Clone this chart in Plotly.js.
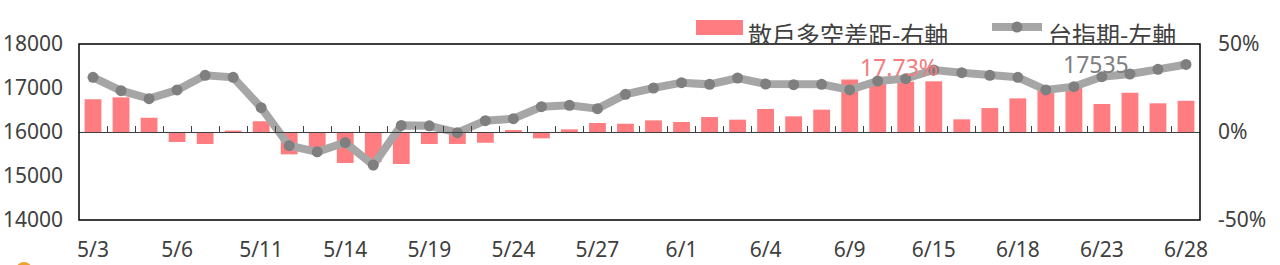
<!DOCTYPE html>
<html>
<head>
<meta charset="utf-8">
<script src="https://cdn.plot.ly/plotly-3.0.1.min.js"></script>
<style>
html,body{margin:0;padding:0;background:#fff;}
#chart{width:1280px;height:265px;}
</style>
</head>
<body>
<div id="chart"></div>
<script>
// ---- data ----
const dates = ['5/3','5/4','5/5','5/6','5/7','5/10','5/11','5/12','5/13','5/14',
  '5/17','5/18','5/19','5/20','5/21','5/24','5/25','5/26','5/27','5/28',
  '5/31','6/1','6/2','6/3','6/4','6/7','6/8','6/9','6/10','6/11',
  '6/15','6/16','6/17','6/18','6/21','6/22','6/23','6/24','6/25','6/28'];
const retailGap = [18.6,19.7,8.1,-5.7,-6.8,0.8,6.1,-12.7,-10.5,-17.6,
  -17.0,-18.2,-6.8,-6.8,-6.1,1.1,-3.6,1.5,5.1,4.7,
  6.6,5.7,8.5,7.0,13.1,8.9,12.7,29.9,27.8,28.6,
  28.8,7.2,13.6,19.1,24.0,25.5,15.9,22.3,16.3,17.73];
const taiex = [17243,16939,16757,16955,17288,17243,16553,15690,15550,15760,
  15250,16150,16140,15985,16257,16303,16575,16606,16530,16856,
  17000,17121,17083,17227,17091,17076,17083,16955,17159,17212,
  17409,17348,17288,17242,16955,17030,17258,17318,17424,17535];
const tickDates = ['5/3','5/6','5/11','5/14','5/19','5/24','5/27','6/1','6/4','6/9','6/15','6/18','6/23','6/28'];
const leftTicks = [14000,15000,16000,17000,18000];
const rightTicks = [-50,0,50];
const barName = '散戶多空差距-右軸';
const lineName = '台指期-左軸';

// ---- layout helpers (pixel -> paper) ----
const W = 1280, H = 265, M = {l:79, r:80, t:44, b:45};
const pw = W - M.l - M.r, ph = H - M.t - M.b;
const px = x => (x - M.l) / pw;
const py = y => (H - M.b - y) / ph;

const FONT = 'Noto Sans, Noto Sans CJK TC, sans-serif';
const TXT = '#404040';
const BAR = '#FF7C80';
const LINEC = '#A6A6A6';
const MARK = '#7F7F7F';

const n = dates.length;
const boundaries = [];
for (let i = 0; i < n - 1; i++) boundaries.push(i + 0.5);

const traces = [
  {type:'bar', x:dates, y:retailGap, yaxis:'y', xaxis:'x', name:barName,
   marker:{color:BAR}, hoverinfo:'skip', showlegend:false},
  {type:'scatter', mode:'lines+markers', x:dates, y:taiex, yaxis:'y2', xaxis:'x', name:lineName,
   line:{color:LINEC, width:8}, marker:{color:MARK, size:11}, hoverinfo:'skip', showlegend:false},
  // empty helper trace so the zero-line axis (x2) is drawn
  {type:'scatter', mode:'markers', x:[], y:[], xaxis:'x2', yaxis:'y', hoverinfo:'skip', showlegend:false}
];

const lastGap = retailGap[n-1];
const lastIdx = taiex[n-1];

const layout = {
  width:W, height:H, margin:M,
  paper_bgcolor:'#fff', plot_bgcolor:'rgba(0,0,0,0)',
  font:{family:FONT, size:21, color:TXT},
  bargap:0.4, showlegend:false,
  xaxis:{type:'category', categoryorder:'array', categoryarray:dates,
    range:[-0.5, n-0.5], tickmode:'array', tickvals:tickDates, ticktext:tickDates,
    ticks:'', showline:false, showgrid:false, zeroline:false, ticklabelstandoff:15,
    tickfont:{size:21, color:TXT}},
  xaxis2:{type:'linear', overlaying:'x', anchor:'free', position:0.5,
    range:[-0.5, n-0.5], tickmode:'array', tickvals:boundaries,
    ticks:'inside', ticklen:6, tickwidth:1, tickcolor:'#404040',
    showticklabels:false, showline:true, linecolor:'#404040', linewidth:1,
    showgrid:false, zeroline:false},
  yaxis:{side:'right', range:[-50,50], tickmode:'array', tickvals:rightTicks,
    ticktext:rightTicks.map(v=>v+'%'), showgrid:false, zeroline:false, showline:false,
    ticks:'', ticklabelstandoff:17, tickfont:{size:21, color:TXT}},
  yaxis2:{overlaying:'y', side:'left', range:[14000,18000], tickmode:'array', tickvals:leftTicks,
    ticktext:leftTicks.map(String),
    showgrid:false, zeroline:false, showline:false, ticks:'', ticklabelstandoff:15,
    tickfont:{size:21, color:TXT}},
  shapes:[
    {type:'rect', xref:'paper', yref:'paper', x0:0, x1:1, y0:0, y1:1,
     line:{color:'#000', width:1.5}, fillcolor:'rgba(0,0,0,0)', layer:'above'},
    // legend: bar swatch
    {type:'rect', xref:'paper', yref:'paper', x0:px(696), x1:px(743), y0:py(35), y1:py(20),
     line:{width:0}, fillcolor:BAR},
    // legend: line swatch
    {type:'line', xref:'paper', yref:'paper', x0:px(992), x1:px(1042), y0:py(27), y1:py(27),
     line:{color:LINEC, width:8}},
    {type:'circle', xref:'paper', yref:'paper', x0:px(1011.5), x1:px(1022.5), y0:py(32.5), y1:py(21.5),
     line:{width:0}, fillcolor:MARK},
    // orange decoration at bottom-left edge
    {type:'circle', xref:'paper', yref:'paper', x0:px(16), x1:px(32), y0:py(278), y1:py(262),
     line:{width:0}, fillcolor:'#F0A030'}
  ],
  annotations:[
    {xref:'paper', yref:'paper', x:px(746), y:py(33), xanchor:'left', yanchor:'middle', height:24,
     text:barName, showarrow:false, font:{size:24, color:TXT, family:'Noto Sans CJK TC, sans-serif'}},
    {xref:'paper', yref:'paper', x:px(1046), y:py(33), xanchor:'left', yanchor:'middle', height:24,
     text:lineName, showarrow:false, font:{size:24, color:TXT, family:'Noto Sans CJK TC, sans-serif'}},
    {xref:'x', yref:'y2', x:28.75, y:17477, xanchor:'center', yanchor:'middle', height:20,
     text:lastGap.toFixed(2)+'%', showarrow:false, font:{size:23, color:'#F47C80'}},
    {xref:'x', yref:'y2', x:35.79, y:17545, xanchor:'center', yanchor:'middle', height:20,
     text:String(lastIdx), showarrow:false, font:{size:23, color:'#7F7F7F'}}
  ]
};

Plotly.newPlot('chart', traces, layout, {staticPlot:true, displayModeBar:false});
</script>
</body>
</html>
